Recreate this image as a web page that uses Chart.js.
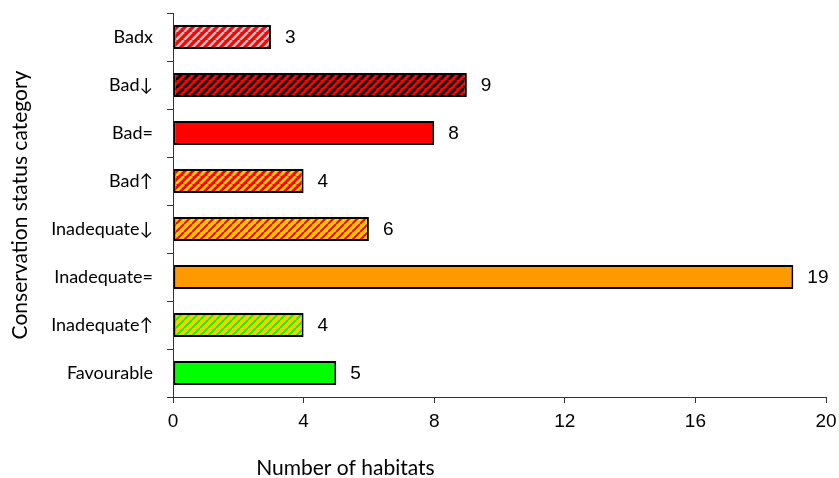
<!DOCTYPE html>
<html>
<head>
<meta charset="utf-8">
<script src="https://cdn.jsdelivr.net/npm/chart.js@4"></script>
<style>
  html, body { margin: 0; padding: 0; background: #ffffff; }
  #wrap { width: 839px; height: 478px; }
</style>
</head>
<body>
<div id="wrap"><canvas id="chart" width="839" height="478"></canvas></div>
<script>
// Conservation status of habitats
const categories = ['Badx', 'Bad\u2193', 'Bad=', 'Bad\u2191', 'Inadequate\u2193', 'Inadequate=', 'Inadequate\u2191', 'Favourable'];
const habitatCounts = [3, 9, 8, 4, 6, 19, 4, 5];
const xTicks = [0, 4, 8, 12, 16, 20];

const RED = '#ff0000', ORANGE = '#ff9900', YELLOW = '#ffcc00', GREEN = '#00ff00', GREY = '#c0c0c0', BLACK = '#000000';

// diagonal "/" stripes on a base colour
function stripes(bg, fg, size, lineW) {
  const c = document.createElement('canvas');
  c.width = c.height = size;
  const g = c.getContext('2d');
  g.fillStyle = bg;
  g.fillRect(0, 0, size, size);
  g.strokeStyle = fg;
  g.lineWidth = lineW;
  g.beginPath();
  for (let k = -1; k <= 1; k++) {
    g.moveTo(k * size, size);
    g.lineTo(k * size + size, 0);
  }
  g.stroke();
  return g.createPattern(c, 'repeat');
}

const fills = [
  stripes(RED, GREY, 8, 2.6),
  stripes(RED, BLACK, 8, 2.8),
  RED,
  stripes(RED, YELLOW, 8, 2.8),
  stripes(YELLOW, RED, 8, 2.0),
  ORANGE,
  stripes(YELLOW, GREEN, 8, 2.0),
  GREEN
];

const LABEL_FONT = 'Lato, "Open Sans", sans-serif';
const NUM_FONT = '"Liberation Sans", Arial, sans-serif';

// numbers at the end of each bar, and the horizontal axis title
const barValueLabels = {
  id: 'barValueLabels',
  afterDatasetsDraw(chart) {
    const ctx = chart.ctx;
    const meta = chart.getDatasetMeta(0);
    ctx.save();
    ctx.font = '19px ' + NUM_FONT;
    ctx.fillStyle = '#000';
    ctx.textAlign = 'left';
    ctx.textBaseline = 'middle';
    meta.data.forEach((bar, i) => {
      ctx.fillText(String(habitatCounts[i]), bar.x + 14, bar.y + 1);
    });
    const area = chart.chartArea;
    ctx.font = '21px ' + LABEL_FONT;
    ctx.textAlign = 'center';
    ctx.fillText('Number of habitats', area.left + (area.right - area.left) * 0.264, 468);
    ctx.restore();
  }
};

new Chart(document.getElementById('chart'), {
  type: 'bar',
  data: {
    labels: categories,
    datasets: [{
      data: habitatCounts,
      backgroundColor: fills,
      borderColor: '#000',
      borderWidth: 2,
      borderSkipped: false,
      barPercentage: 0.5,
      categoryPercentage: 1.0
    }]
  },
  options: {
    indexAxis: 'y',
    responsive: false,
    animation: false,
    layout: { padding: { top: 13, right: 13, left: 0, bottom: 0 } },
    plugins: { legend: { display: false }, tooltip: { enabled: false } },
    scales: {
      x: {
        min: 0, max: 20,
        afterBuildTicks(scale) { scale.ticks = xTicks.map(v => ({ value: v })); },
        afterFit(scale) {
          scale.height = 81;
          scale.paddingLeft = 0;
          scale.paddingRight = 0;
        },
        grid: { display: true, drawOnChartArea: false, drawTicks: true, tickLength: 6, color: '#333' },
        border: { display: true, color: '#333', width: 1 },
        ticks: { color: '#000', font: { family: NUM_FONT, size: 19 }, padding: 7, maxRotation: 0 }
      },
      y: {
        afterFit(scale) {
          scale.width = 173;
          scale.paddingTop = 0;
          scale.paddingBottom = 0;
        },
        grid: { display: true, drawOnChartArea: false, drawTicks: true, tickLength: 6, color: '#333', offset: true },
        border: { display: true, color: '#333', width: 1 },
        ticks: { color: '#000', font: { family: LABEL_FONT, size: 18 }, padding: 14 },
        title: {
          display: true,
          text: 'Conservation status category',
          color: '#000',
          font: { family: LABEL_FONT, size: 21 },
          padding: { top: 8, bottom: 0 }
        }
      }
    }
  },
  plugins: [barValueLabels]
});
</script>
</body>
</html>
